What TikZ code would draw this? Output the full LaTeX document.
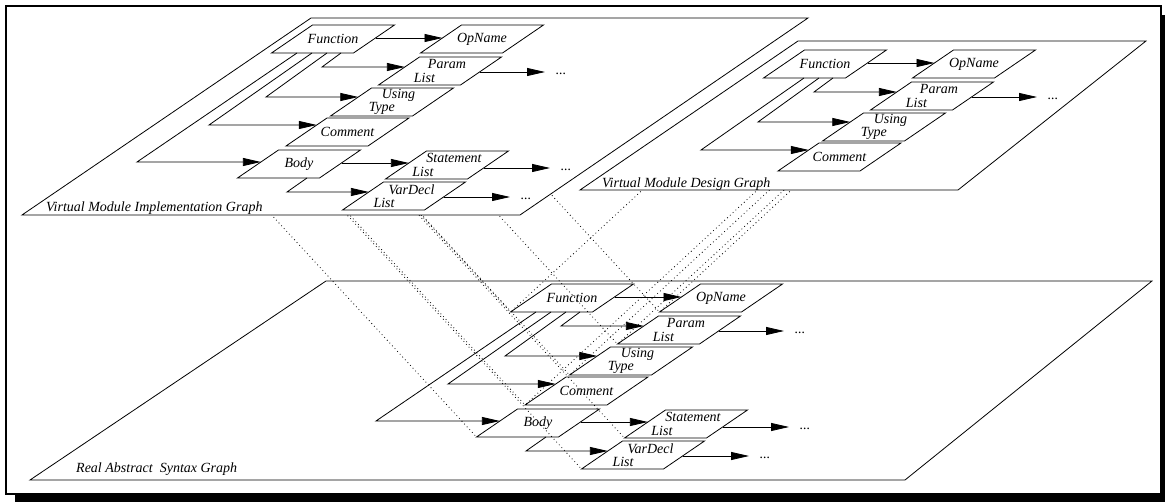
\documentclass[tikz,border=0pt]{standalone}
\usepackage{fontspec}
\setmainfont{Liberation Serif}
\usetikzlibrary{arrows.meta}
\pgfdeclarelayer{back}
\pgfdeclarelayer{mid}
\pgfsetlayers{back,mid,main}

% slanted box of 82x28 with a horizontal offset of 41 between bottom and top
\newcommand\pgbox[1]{\draw[boxline] ([shift={(-61.5,14)}]#1.center) -- ([shift={(20.5,14)}]#1.center) -- ([shift={(61.5,-14)}]#1.center) -- ([shift={(-20.5,-14)}]#1.center) -- cycle;}

\tikzset{
  boxline/.style={line width=0.8pt},
  arr/.style={line width=0.8pt, -{Triangle[length=18pt,width=8pt]}},
  lbl/.style={inner sep=0pt, align=left, font=\fontsize{14}{13.5}\selectfont\itshape},
  ellip/.style={inner sep=0pt, font=\fontsize{14}{13.5}\selectfont\itshape},
  link/.style={line width=0.8pt, dash pattern=on 0.8pt off 3pt},
  plane/.style={line width=0.8pt},
  % Function with its four direct children
  pics/graphcore/.style={code={
    \node[lbl] (fn) at (333,39) {Function};
    \node[lbl] (op) at (482,39) {OpName};
    \node[lbl] (pl) at (440,71) {\hspace*{14pt}Param\\List};
    \node[lbl] (ut) at (392,102) {\hspace*{13pt}Using\\Type};
    \node[lbl] (cm) at (347.5,132) {Comment};
    \node[ellip] (pd) at (561,74) {...};
    \foreach \n in {fn,op,pl,ut,cm} {\pgbox{\n}}
    \draw[arr] ([shift={(42.5,-1)}]fn.center) -- ([shift={(-39.5,-1)}]op.center);
    \draw[arr] ([shift={(8,14)}]fn.center) -- ([shift={(-11,28)}]fn.center) -- ([shift={(-35.1,-4)}]pl.center);
    \draw[arr] ([shift={(-6,14)}]fn.center) -- ([shift={(-67,58)}]fn.center) -- ([shift={(-33.7,-5)}]ut.center);
    \draw[arr] ([shift={(-21,14)}]fn.center) -- ([shift={(-124,86)}]fn.center) -- ([shift={(-30.75,-7)}]cm.center);
    \draw[arr] ([shift={(39.5,1)}]pl.center) -- ([shift={(-16,-2)}]pd.center);
  }},
  % the body subtree
  pics/graphbody/.style={code={
    \node[lbl] (bd) at (299,164) {Body};
    \node[lbl] (sl) at (447,165) {\hspace*{14pt}Statement\\List};
    \node[lbl] (vd) at (404,196) {\hspace*{15pt}VarDecl\\List};
    \node[ellip] (sd) at (566,170) {...};
    \node[ellip] (vdd) at (526,199) {...};
    \foreach \n in {bd,sl,vd} {\pgbox{\n}}
    \draw[arr] ([shift={(-36,14)}]fn.center) -- ([shift={(-196,123)}]fn.center) -- ([shift={(-38.1,-2)}]bd.center);
    \draw[arr] ([shift={(42.5,-1)}]bd.center) -- ([shift={(-38.1,-2)}]sl.center);
    \draw[arr] ([shift={(8,14)}]bd.center) -- ([shift={(-12,28)}]bd.center) -- ([shift={(-35.1,-4)}]vd.center);
    \draw[arr] ([shift={(36.6,3)}]sl.center) -- ([shift={(-16,-2)}]sd.center);
    \draw[arr] ([shift={(39.5,1)}]vd.center) -- ([shift={(-16,-2)}]vdd.center);
  }},
}

\begin{document}
\begin{tikzpicture}[x=1pt,y=-1pt]
\useasboundingbox (0,0) rectangle (1165,502);

\begin{pgfonlayer}{back}
  % shadowed frame
  \fill[black] (15,15) rectangle (1165,502);
  \draw[line width=2pt, fill=white] (6,6) rectangle (1161,494);
  % lower plane
  \draw[plane] (326,281) -- (1152,281) -- (905,480) -- (30,480) -- cycle;
  \pic (real-) at (239,259) {graphcore};
  \pic (real-) at (239,259) {graphbody};
  \node[lbl, anchor=west] (realname) at (76,469) {Real Abstract~ Syntax Graph};
\end{pgfonlayer}

% implementation plane
\draw[plane, fill=white] (311,18) -- (808,18) -- (520,215) -- (22,215) -- cycle;
\pic (impl-) at (0,0) {graphcore};
\pic (impl-) at (0,0) {graphbody};
\node[lbl, anchor=west] (implname) at (46,208) {Virtual Module Implementation Graph};

% design plane
\draw[plane, fill=white] (798,41) -- (1146,41) -- (958,190) -- (580,190) -- cycle;
\pic (design-) at (492,25) {graphcore};
\node[lbl, anchor=west] (designname) at (602,184) {Virtual Module Design Graph};

% correspondences between the planes
\begin{pgfonlayer}{mid}
  \foreach \n in {fn,op,pl,ut,cm,bd,sl,vd}
    \draw[link] ([shift={(-61.5,14)}]impl-\n.center) -- ([shift={(-61.5,14)}]real-\n.center);
  \foreach \n in {fn,op,pl,ut,cm}
    \draw[link] ([shift={(-61.5,14)}]design-\n.center) -- ([shift={(-61.5,14)}]real-\n.center);
\end{pgfonlayer}
\end{tikzpicture}
\end{document}
